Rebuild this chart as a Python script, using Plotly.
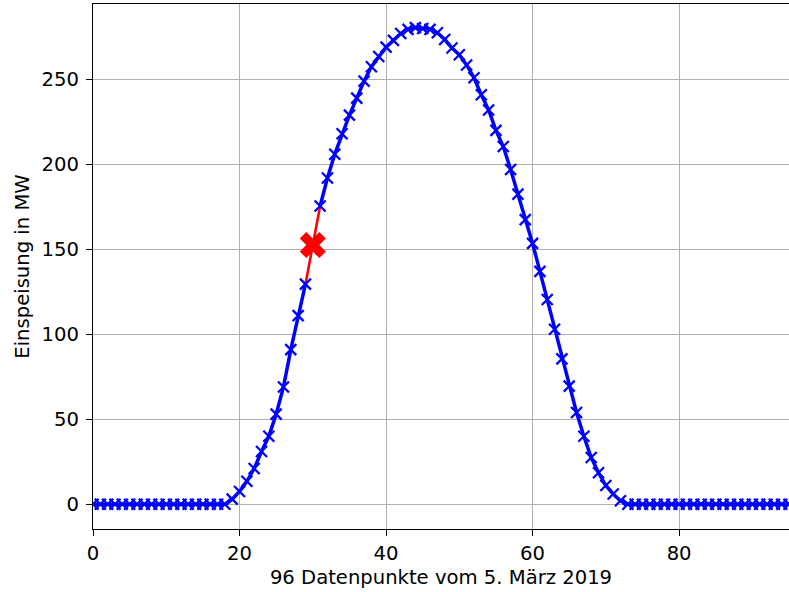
import plotly.graph_objects as go

# 96 quarter-hour readings of feed-in power (MW); index 30 is missing
points = list(range(96))
feed_in_mw = (
    [0.0] * 19
    + [3.0, 7.5, 13.5, 21.0, 31.0, 40.0, 53.0, 69.0, 91.0, 111.0, 129.5,
       None,
       175.5, 192.0, 206.0, 218.0, 229.0, 239.0, 249.0, 257.5, 263.5, 269.0,
       273.0, 277.0, 279.5, 280.5, 280.0, 279.5, 277.5, 273.5, 268.5, 264.5,
       258.5, 251.0, 241.0, 232.0, 220.0, 210.5, 197.0, 182.5, 167.5, 153.5,
       137.0, 120.5, 103.0, 85.5, 69.5, 54.0, 40.0, 27.5, 18.5, 11.0, 6.0,
       2.0]
    + [0.0] * 23
)

# Filled-in value for the gap
gap_index = 30
gap_value = 152.5

x_ticks = [0, 20, 40, 60, 80]
y_ticks = [0, 50, 100, 150, 200, 250]

# Red segment: neighbour -> filled value -> neighbour
seg_x = [gap_index - 1, gap_index, gap_index + 1]
seg_y = [feed_in_mw[gap_index - 1], gap_value, feed_in_mw[gap_index + 1]]

FONT = dict(family="DejaVu Sans", size=19.6, color="black")

fig = go.Figure()

fig.add_trace(go.Scatter(
    x=seg_x, y=seg_y, mode="lines",
    line=dict(color="#ff0000", width=2.6),
    showlegend=False, hoverinfo="skip",
))

fig.add_trace(go.Scatter(
    x=points, y=feed_in_mw, mode="lines+markers",
    connectgaps=False,
    line=dict(color="#0000ff", width=3.5),
    marker=dict(symbol="x-thin", size=11, color="#0000ff",
                line=dict(color="#0000ff", width=2.3)),
    showlegend=False,
))

fig.add_trace(go.Scatter(
    x=[gap_index], y=[gap_value], mode="markers",
    marker=dict(symbol="x", size=23, color="#ff0000",
                line=dict(width=0)),
    showlegend=False,
))

axis_common = dict(
    showgrid=True, gridcolor="#b0b0b0", gridwidth=1.4,
    ticks="outside", ticklen=6, tickwidth=1.4, tickcolor="black",
    showline=True, linecolor="black", linewidth=1.4, mirror=True,
    zeroline=False,
    tickfont=FONT,
)

fig.update_layout(
    width=789, height=592,
    margin=dict(l=93, r=0, t=4, b=63),
    plot_bgcolor="white", paper_bgcolor="white",
    font=FONT,
    xaxis=dict(
        range=[0, 95], tickvals=x_ticks, ticktext=[str(v) for v in x_ticks],
        ticklabelstandoff=0,
        title=dict(text="96 Datenpunkte vom 5. März 2019", standoff=6,
                   font=FONT),
        **axis_common,
    ),
    yaxis=dict(
        range=[-14.6, 294.4], tickvals=y_ticks, ticktext=[str(v) for v in y_ticks],
        ticklabelstandoff=3,
        title=dict(text="Einspeisung in MW", standoff=6, font=FONT),
        **axis_common,
    ),
)

fig.write_html("out.html")
